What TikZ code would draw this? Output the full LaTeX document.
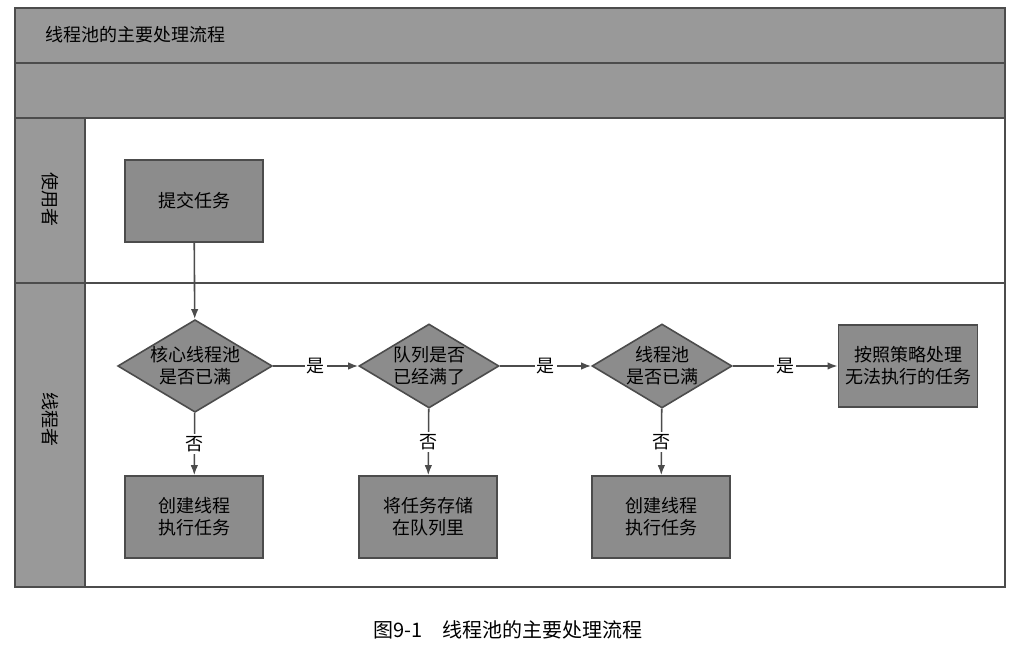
\documentclass[tikz,border=0pt]{standalone}
\usepackage{fontspec}
\newfontfamily\cjk{Noto Sans CJK SC}
\usetikzlibrary{shapes.geometric,arrows.meta}
\tikzset{
  lane/.style={draw=black!70, line width=1pt, fill=black!40},
  stepbox/.style={draw=black!70, line width=0.8pt, fill=black!45, minimum width=69pt, minimum height=41pt, align=center, font=\cjk\small},
  choice/.style={diamond, draw=black!70, line width=0.8pt, fill=black!45, aspect=1.67, minimum width=70pt, minimum height=42pt, inner sep=0pt, align=center, font=\cjk\small},
  flow/.style={draw=black!70, line width=0.8pt, -{Latex[length=5pt]}},
  lbl/.style={fill=white, inner sep=1pt, font=\cjk\small}
}
\begin{document}
\begin{tikzpicture}[x=0.5pt, y=-0.5pt]
    \useasboundingbox (0,0) rectangle (1028,662);
    % lanes
    \fill[white] (0,0) rectangle (1028,662);
    \draw[lane] (15,8) rectangle (1005,63);
    \draw[lane] (15,63) rectangle (1005,118);
    \draw[draw=black!70, line width=1pt] (15,118) rectangle (1005,587);
    \draw[lane] (15,118) rectangle (85,283);
    \draw[lane] (15,283) rectangle (85,587);
    \draw[draw=black!70, line width=1pt] (85,283) -- (1005,283);
    \node[font=\cjk\small, anchor=west] (title) at (38,35) {线程池的主要处理流程};
    \node[font=\cjk\small, rotate=-90] (user) at (50,200) {使用者};
    \node[font=\cjk\small, rotate=-90] (worker) at (50,420) {线程者};
    % nodes
    \node[stepbox] (submit) at (194,201) {提交任务};
    \node[choice] (core) at (195,366) {核心线程池\\是否已满};
    \node[choice] (queue) at (429,366) {队列是否\\已经满了};
    \node[choice] (pool) at (662,366) {线程池\\是否已满};
    \node[stepbox] (policy) at (908,366) {按照策略处理\\无法执行的任务};
    \node[stepbox] (create1) at (194,517) {创建线程\\执行任务};
    \node[stepbox] (store) at (428,517) {将任务存储\\在队列里};
    \node[stepbox] (create2) at (661,517) {创建线程\\执行任务};
    % connectors
    \draw[flow] (submit) -- (core);
    \draw[flow] (core) -- node[lbl] {是} (queue);
    \draw[flow] (queue) -- node[lbl] {是} (pool);
    \draw[flow] (pool) -- node[lbl] {是} (policy);
    \draw[flow] (core) -- node[lbl] {否} (create1);
    \draw[flow] (queue) -- node[lbl] {否} (store);
    \draw[flow] (pool) -- node[lbl] {否} (create2);
    % caption
    \node[font=\cjk] (caption) at (508,630) {图9-1\quad 线程池的主要处理流程};
\end{tikzpicture}
\end{document}
